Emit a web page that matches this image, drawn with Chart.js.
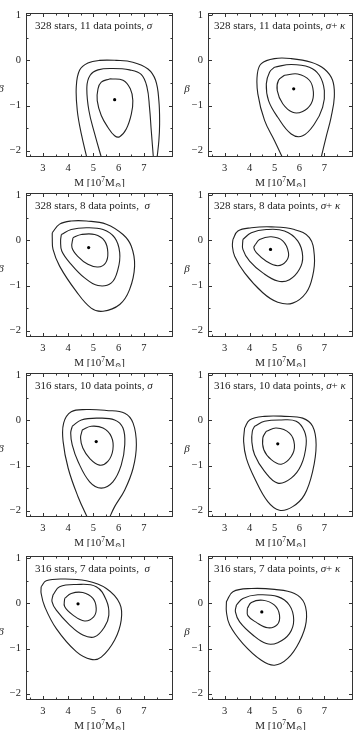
<!DOCTYPE html>
<html>
<head>
<meta charset="utf-8">
<script src="https://cdn.jsdelivr.net/npm/chart.js@4.4.0/dist/chart.umd.min.js"></script>
<style>
  html, body { margin: 0; padding: 0; background: #fff; }
  body { width: 358px; height: 732px; position: relative; overflow: hidden; }
  canvas { position: absolute; }
</style>
</head>
<body>
<canvas id="p1" width="179" height="187" style="left:0;top:0"></canvas>
<canvas id="p2" width="179" height="187" style="left:179px;top:0"></canvas>
<canvas id="p3" width="179" height="187" style="left:0;top:180px"></canvas>
<canvas id="p4" width="179" height="187" style="left:179px;top:180px"></canvas>
<canvas id="p5" width="179" height="187" style="left:0;top:360px"></canvas>
<canvas id="p6" width="179" height="187" style="left:179px;top:360px"></canvas>
<canvas id="p7" width="179" height="187" style="left:0;top:543px"></canvas>
<canvas id="p8" width="179" height="187" style="left:179px;top:543px"></canvas>
<script>
// axes
const xTicks = [3, 4, 5, 6, 7];
const yTicks = [-2, -1, 0, 1];
const xMinorTicks = [2.5, 3.5, 4.5, 5.5, 6.5, 7.5];
const yMinorTicks = [-1.5, -0.5, 0.5];
const xRange = [2.33, 8.15];
const yRange = [-2.14, 1.05];

// panel titles
const titles = [
    '328 stars, 11 data points, ', '328 stars, 11 data points, ',
    '328 stars, 8 data points,  ', '328 stars, 8 data points, ',
    '316 stars, 10 data points, ', '316 stars, 10 data points, ',
    '316 stars, 7 data points,  ', '316 stars, 7 data points, '
];
const withKappa = [false, true, false, true, false, true, false, true];

// best fit points [M, beta]
const bestFit = [[5.84, -0.87], [5.77, -0.63], [4.81, -0.16], [4.84, -0.20],
                 [5.11, -0.47], [5.13, -0.52], [4.39, -0.01], [4.49, -0.19]];

// contours
const p1Inner = [[5.64,-0.41],[6.17,-0.44],[6.46,-0.63],[6.56,-0.89],[6.50,-1.19],[6.30,-1.52],[6.04,-1.69],[5.84,-1.67],[5.57,-1.48],[5.31,-1.22],[5.15,-0.89],[5.18,-0.63],[5.31,-0.48]];
const p1Middle = [[5.34,-2.2],[5.05,-1.63],[4.82,-1.11],[4.74,-0.59],[4.87,-0.33],[5.18,-0.21],[5.77,-0.18],[6.43,-0.21],[6.89,-0.31],[7.12,-0.59],[7.22,-1.04],[7.29,-1.56],[7.38,-2.2]];
const p1Outer = [[4.76,-2.2],[4.52,-1.63],[4.36,-1.11],[4.32,-0.59],[4.45,-0.22],[4.78,-0.06],[5.24,0.0],[5.90,0.0],[6.56,-0.04],[7.16,-0.19],[7.46,-0.44],[7.59,-0.89],[7.62,-1.41],[7.59,-1.78],[7.51,-2.2]];

const p2Inner = [[5.40,-0.33],[5.93,-0.30],[6.40,-0.44],[6.56,-0.70],[6.47,-0.96],[6.13,-1.13],[5.73,-1.15],[5.33,-0.96],[5.11,-0.67],[5.16,-0.44]];
const p2Middle = [[5.00,-0.15],[5.67,-0.09],[6.40,-0.15],[6.80,-0.33],[7.00,-0.67],[6.93,-1.04],[6.60,-1.41],[6.13,-1.67],[5.67,-1.63],[5.13,-1.26],[4.76,-0.89],[4.67,-0.52],[4.80,-0.26]];
const p2Outer = [[5.36,-2.2],[5.00,-1.78],[4.60,-1.33],[4.33,-0.74],[4.31,-0.30],[4.47,-0.07],[5.00,0.04],[5.67,0.04],[6.47,-0.04],[7.00,-0.19],[7.33,-0.44],[7.40,-0.81],[7.27,-1.26],[7.07,-1.70],[6.85,-2.2]];

const p3Inner = [[4.19,0.06],[4.52,0.13],[5.05,0.13],[5.44,-0.01],[5.57,-0.27],[5.48,-0.50],[5.18,-0.59],[4.78,-0.53],[4.39,-0.36],[4.15,-0.16]];
const p3Middle = [[3.73,0.13],[4.12,0.24],[4.72,0.28],[5.38,0.24],[5.84,0.06],[6.04,-0.27],[5.97,-0.64],[5.71,-0.94],[5.18,-1.00],[4.65,-0.83],[4.12,-0.53],[3.75,-0.24],[3.70,-0.01]];
const p3Outer = [[3.37,0.17],[3.66,0.36],[4.12,0.43],[4.72,0.43],[5.51,0.36],[6.17,0.13],[6.50,-0.13],[6.63,-0.57],[6.43,-1.09],[6.04,-1.42],[5.38,-1.57],[4.91,-1.50],[4.32,-1.13],[3.66,-0.57],[3.40,-0.20],[3.37,0.06]];

const p4Inner = [[4.23,-0.09],[4.40,0.02],[4.87,0.08],[5.33,-0.01],[5.56,-0.27],[5.47,-0.46],[5.13,-0.56],[4.67,-0.46],[4.27,-0.27],[4.17,-0.16]];
const p4Middle = [[3.73,0.02],[4.07,0.17],[4.67,0.24],[5.40,0.21],[5.93,-0.01],[6.13,-0.35],[6.00,-0.64],[5.60,-0.87],[5.13,-0.90],[4.53,-0.72],[4.00,-0.46],[3.73,-0.20]];
const p4Outer = [[3.33,0.02],[3.53,0.21],[4.07,0.28],[4.87,0.30],[5.80,0.24],[6.40,0.06],[6.60,-0.35],[6.53,-0.79],[6.27,-1.16],[5.73,-1.39],[5.13,-1.37],[4.53,-1.16],[3.80,-0.72],[3.40,-0.35],[3.31,-0.13]];

const p5Inner = [[4.56,-0.21],[4.91,-0.13],[5.38,-0.17],[5.71,-0.36],[5.77,-0.65],[5.57,-0.91],[5.24,-0.99],[4.85,-0.84],[4.58,-0.61],[4.49,-0.39]];
const p5Middle = [[4.16,-0.13],[4.52,0.01],[5.18,0.05],[5.84,0.01],[6.17,-0.17],[6.24,-0.54],[6.10,-0.99],[5.77,-1.36],[5.31,-1.50],[4.85,-1.36],[4.39,-0.91],[4.16,-0.54],[4.10,-0.28]];
const p5Outer = [[4.80,-2.2],[4.39,-1.69],[4.00,-1.06],[3.80,-0.47],[3.82,-0.06],[4.12,0.19],[4.72,0.24],[5.51,0.22],[6.24,0.16],[6.57,-0.06],[6.70,-0.54],[6.57,-1.06],[6.24,-1.54],[5.84,-1.91],[5.60,-2.2]];

const p6Inner = [[4.67,-0.24],[5.07,-0.17],[5.60,-0.28],[5.80,-0.54],[5.67,-0.80],[5.27,-0.97],[4.87,-0.87],[4.57,-0.65],[4.53,-0.39]];
const p6Middle = [[4.20,-0.13],[4.60,-0.02],[5.27,0.01],[5.87,-0.02],[6.20,-0.24],[6.27,-0.54],[6.07,-0.99],[5.67,-1.28],[5.13,-1.39],[4.60,-1.13],[4.20,-0.76],[4.09,-0.47],[4.11,-0.24]];
const p6Outer = [[3.80,-0.17],[4.00,0.01],[4.60,0.09],[5.40,0.09],[6.13,0.05],[6.53,-0.13],[6.67,-0.54],[6.53,-1.13],[6.20,-1.65],[5.73,-1.91],[5.20,-1.99],[4.73,-1.80],[4.20,-1.28],[3.87,-0.84],[3.76,-0.47]];

const p7Inner = [[3.86,0.11],[4.12,0.22],[4.58,0.24],[4.98,0.11],[5.11,-0.11],[5.01,-0.30],[4.65,-0.39],[4.19,-0.26],[3.86,-0.07]];
const p7Middle = [[3.40,0.19],[3.66,0.37],[4.32,0.42],[5.11,0.37],[5.51,0.07],[5.61,-0.26],[5.44,-0.52],[5.05,-0.74],[4.58,-0.70],[4.06,-0.48],[3.53,-0.15],[3.36,0.04]];
const p7Outer = [[2.93,0.37],[3.13,0.50],[3.79,0.54],[4.72,0.50],[5.51,0.33],[6.04,0.00],[6.10,-0.37],[5.84,-0.81],[5.31,-1.19],[4.91,-1.24],[4.32,-1.07],[3.53,-0.56],[3.07,-0.07],[2.93,0.22]];

const p8Inner = [[3.91,-0.11],[4.07,0.02],[4.53,0.07],[5.00,-0.04],[5.20,-0.26],[5.11,-0.47],[4.73,-0.54],[4.27,-0.42],[3.93,-0.27]];
const p8Middle = [[3.47,-0.04],[3.73,0.11],[4.33,0.19],[5.13,0.15],[5.60,-0.04],[5.77,-0.37],[5.60,-0.67],[5.13,-0.87],[4.67,-0.89],[4.13,-0.70],[3.60,-0.41],[3.43,-0.19]];
const p8Outer = [[3.07,0.04],[3.33,0.26],[4.07,0.33],[5.00,0.31],[5.80,0.22],[6.20,0.00],[6.27,-0.41],[6.00,-0.85],[5.53,-1.22],[5.00,-1.37],[4.47,-1.26],[3.73,-0.89],[3.20,-0.48],[3.07,-0.19]];

// which contours run off the bottom edge (not closed)
const contours = [
    {lines: [p1Outer, p1Middle, p1Inner], open: [true, true, false]},
    {lines: [p2Outer, p2Middle, p2Inner], open: [true, false, false]},
    {lines: [p3Outer, p3Middle, p3Inner], open: [false, false, false]},
    {lines: [p4Outer, p4Middle, p4Inner], open: [false, false, false]},
    {lines: [p5Outer, p5Middle, p5Inner], open: [true, false, false]},
    {lines: [p6Outer, p6Middle, p6Inner], open: [false, false, false]},
    {lines: [p7Outer, p7Middle, p7Inner], open: [false, false, false]},
    {lines: [p8Outer, p8Middle, p8Inner], open: [false, false, false]}
];

const SERIF = '"Liberation Serif", "DejaVu Serif", serif';
const INK = '#222';

function toPoints(arr, open) {
    const pts = arr.map(p => ({x: p[0], y: p[1]}));
    if (!open) pts.push({x: arr[0][0], y: arr[0][1]});
    return pts;
}

// frame, inward ticks, panel label, axis titles
const framePlugin = {
    id: 'frame',
    afterDraw(chart) {
        const {ctx, chartArea: a, scales: {x, y}} = chart;
        const o = chart.options.plugins.frame;
        ctx.save();
        ctx.strokeStyle = '#333';
        ctx.lineWidth = 1;
        ctx.strokeRect(a.left + 0.5, a.top + 0.5, a.right - a.left - 1, a.bottom - a.top - 1);
        ctx.beginPath();
        const xt = (vals, len) => vals.forEach(v => {
            const px = Math.round(x.getPixelForValue(v)) + 0.5;
            ctx.moveTo(px, a.bottom); ctx.lineTo(px, a.bottom - len);
            ctx.moveTo(px, a.top); ctx.lineTo(px, a.top + len);
        });
        const yt = (vals, len) => vals.forEach(v => {
            const py = Math.round(y.getPixelForValue(v)) + 0.5;
            ctx.moveTo(a.left, py); ctx.lineTo(a.left + len, py);
            ctx.moveTo(a.right, py); ctx.lineTo(a.right - len, py);
        });
        xt(xTicks, 4); xt(xMinorTicks, 2.5);
        yt(yTicks, 4); yt(yMinorTicks, 2.5);
        ctx.stroke();

        ctx.fillStyle = INK;
        ctx.textBaseline = 'alphabetic';
        ctx.textAlign = 'left';
        // panel label
        let tx = a.left + o.titleX;
        const ty = a.top + 16;
        ctx.font = '11px ' + SERIF;
        ctx.fillText(o.title, tx, ty);
        tx += ctx.measureText(o.title).width;
        ctx.font = 'italic 11px ' + SERIF;
        ctx.fillText('σ', tx, ty);
        tx += ctx.measureText('σ').width;
        if (o.kappa) {
            ctx.font = '11px ' + SERIF;
            ctx.fillText('+ ', tx, ty);
            tx += ctx.measureText('+ ').width;
            ctx.font = 'italic 11px ' + SERIF;
            ctx.fillText('κ', tx, ty);
        }
        // y title
        ctx.font = 'italic 11px ' + SERIF;
        ctx.textAlign = 'center';
        ctx.fillText('β', a.left + o.betaX, (a.top + a.bottom) / 2 + 7);
        // x title: M [10^7 M_sun]
        const parts = [
            {t: 'M [10', f: '11px ', dy: 0},
            {t: '7', f: '7.5px ', dy: -4},
            {t: 'M', f: '11px ', dy: 0},
            {t: '⊙', f: '7.5px ', dy: 2},
            {t: ']', f: '11px ', dy: 0}
        ];
        let w = 0;
        parts.forEach(p => { ctx.font = p.f + SERIF; p.w = ctx.measureText(p.t).width; w += p.w; });
        let lx = (a.left + a.right) / 2 - w / 2;
        const ly = a.bottom + 29;
        ctx.textAlign = 'left';
        parts.forEach(p => { ctx.font = p.f + SERIF; ctx.fillText(p.t, lx, ly + p.dy); lx += p.w; });
        ctx.restore();
    }
};

function fmt(v) {
    return v < 0 ? '−' + Math.abs(v) : String(v);
}

contours.forEach((panel, i) => {
    const right = i % 2 === 1;
    const datasets = panel.lines.map((line, k) => ({
        data: toPoints(line, panel.open[k]),
        showLine: true,
        borderColor: INK,
        borderWidth: 1.1,
        pointRadius: 0,
        tension: 0.4
    }));
    datasets.push({
        data: [{x: bestFit[i][0], y: bestFit[i][1]}],
        pointRadius: 1.6,
        backgroundColor: '#000',
        borderWidth: 0
    });
    const ctx = document.getElementById('p' + (i + 1)).getContext('2d');
    new Chart(ctx, {
        type: 'scatter',
        data: {datasets: datasets},
        plugins: [framePlugin],
        options: {
            responsive: false,
            animation: false,
            events: [],
            layout: {padding: {top: 13, right: right ? 5 : 6, left: 0, bottom: 0}},
            plugins: {
                legend: {display: false},
                tooltip: {enabled: false},
                frame: {title: titles[i], kappa: withKappa[i], titleX: right ? 6 : 9, betaX: right ? -21 : -25}
            },
            scales: {
                x: {
                    type: 'linear',
                    min: xRange[0], max: xRange[1],
                    grid: {display: false, drawTicks: false},
                    border: {display: false},
                    afterBuildTicks: s => { s.ticks = xTicks.map(v => ({value: v})); },
                    afterFit: s => { s.height = 30; },
                    ticks: {color: INK, font: {family: SERIF, size: 10.5}, padding: 5, maxRotation: 0, callback: fmt}
                },
                y: {
                    type: 'linear',
                    min: yRange[0], max: yRange[1],
                    grid: {display: false, drawTicks: false},
                    border: {display: false},
                    afterBuildTicks: s => { s.ticks = yTicks.map(v => ({value: v})); },
                    afterFit: s => { s.width = right ? 29 : 26; },
                    ticks: {color: INK, font: {family: SERIF, size: 10.5}, padding: 5, callback: fmt}
                }
            }
        }
    });
});
</script>
</body>
</html>
